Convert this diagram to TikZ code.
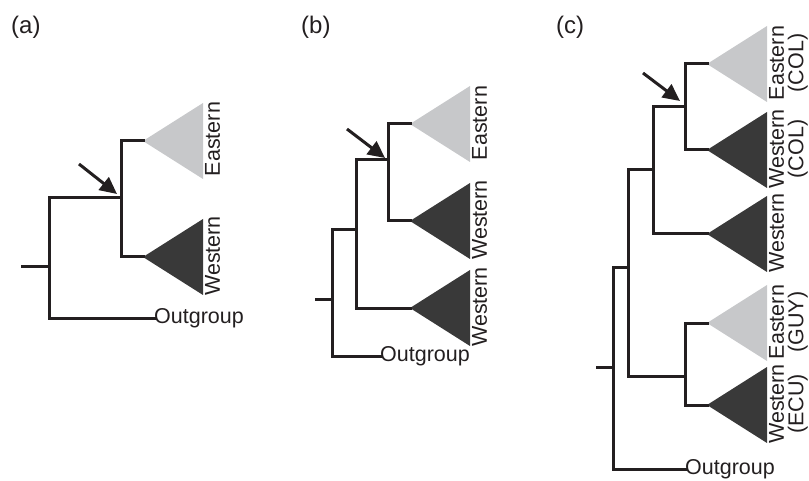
\documentclass[tikz,border=0pt]{standalone}
\usepackage{fontspec}
\setmainfont{Liberation Sans}
\usetikzlibrary{arrows.meta}
\definecolor{lineC}{HTML}{231F20}
\definecolor{darkC}{HTML}{393939}
\definecolor{lightC}{HTML}{C7C8CA}
\tikzset{
  br/.style={draw=lineC, line width=3pt, line cap=rect, line join=miter},
  lab/.style={rotate=90, anchor=north, inner sep=0pt, font=\fontsize{21.5}{19.5}\selectfont, align=center, text=lineC},
  outlab/.style={anchor=west, inner sep=0pt, font=\fontsize{21.5}{21.5}\selectfont, text=lineC},
  panel/.style={anchor=base west, inner sep=0pt, font=\fontsize{24}{24}\selectfont, text=lineC},
  pointer/.style={draw=lineC, line width=3pt, -{Triangle[length=17pt,width=16pt]}}
}
\newcommand{\clade}[4]{% name, apex x, apex y, colour
  \coordinate (#1) at (#2,#3);
  \fill[#4] (#1) -- ++(60,-38) -- ++(0,76) -- cycle;
}
\begin{document}
\begin{tikzpicture}[x=1pt,y=-1pt]
\useasboundingbox (0,0) rectangle (809,481);

% ---------------- panel (a)
\node[panel] (pa) at (11,34) {(a)};
\clade{aE}{143}{141}{lightC}
\clade{aW}{143}{257}{darkC}
\node[lab] (laE) at (205,139) {Eastern};
\node[lab] (laW) at (205,256) {Western};
\coordinate (aR) at (49,267);
\coordinate (aS) at (22,267);
\coordinate (aT) at (49,198);
\coordinate (aO) at (49,318);
\coordinate (aN) at (121,198);
\coordinate (aN1) at (121,141);
\coordinate (aN2) at (121,257);
\node[outlab] (aOut) at (154,318) {Outgroup};
\draw[br] (aS) -- (aR);
\draw[br] (aT) -- (aO);
\draw[br] (aO) -- (aOut.west);
\draw[br] (aT) -- (aN);
\draw[br] (aN1) -- (aN2);
\draw[br] (aN1) -- (aE);
\draw[br] (aN2) -- (aW);
\coordinate (aA0) at (79,164);
\coordinate (aA1) at (117,194);
\draw[pointer] (aA0) -- (aA1);

% ---------------- panel (b)
\node[panel] (pb) at (301,34) {(b)};
\clade{bE}{410}{124}{lightC}
\clade{bW1}{410}{221}{darkC}
\clade{bW2}{410}{308}{darkC}
\node[lab] (lbE) at (472,123) {Eastern};
\node[lab] (lbW1) at (472,220) {Western};
\node[lab] (lbW2) at (472,307) {Western};
\coordinate (bS) at (316,300);
\coordinate (bR) at (332,300);
\coordinate (bT) at (332,230);
\coordinate (bO) at (332,356);
\node[outlab] (bOut) at (380,356) {Outgroup};
\coordinate (bN) at (356,230);
\coordinate (bNt) at (356,160);
\coordinate (bNb) at (356,308);
\coordinate (bM) at (388,160);
\coordinate (bMt) at (388,124);
\coordinate (bMb) at (388,221);
\draw[br] (bS) -- (bR);
\draw[br] (bT) -- (bO);
\draw[br] (bO) -- (bOut.west);
\draw[br] (bT) -- (bN);
\draw[br] (bNt) -- (bNb);
\draw[br] (bNt) -- (bM);
\draw[br] (bMt) -- (bMb);
\draw[br] (bMt) -- (bE);
\draw[br] (bMb) -- (bW1);
\draw[br] (bNb) -- (bW2);
\coordinate (bA0) at (347,129);
\coordinate (bA1) at (385,158);
\draw[pointer] (bA0) -- (bA1);

% ---------------- panel (c)
\node[panel] (pc) at (556,34) {(c)};
\clade{cE1}{707}{64}{lightC}
\clade{cW1}{707}{150}{darkC}
\clade{cW2}{707}{234}{darkC}
\clade{cE2}{707}{323}{lightC}
\clade{cW3}{707}{405}{darkC}
\node[lab] (lcE1) at (769,63) {Eastern\\(COL)};
\node[lab] (lcW1) at (769,149) {Western\\(COL)};
\node[lab] (lcW2) at (769,233) {Western};
\node[lab] (lcE2) at (769,322) {Eastern\\(GUY)};
\node[lab] (lcW3) at (769,404) {Western\\(ECU)};
\coordinate (cS) at (597,367);
\coordinate (cR) at (613,367);
\coordinate (cT) at (613,268);
\coordinate (cO) at (613,469);
\node[outlab] (cOut) at (685,469) {Outgroup};
\coordinate (cP) at (628,268);
\coordinate (cPt) at (628,170);
\coordinate (cPb) at (628,376);
\coordinate (cQ) at (653,170);
\coordinate (cQt) at (653,107);
\coordinate (cQb) at (653,234);
\coordinate (cU) at (685,107);
\coordinate (cUt) at (685,64);
\coordinate (cUb) at (685,150);
\coordinate (cV) at (685,376);
\coordinate (cVt) at (685,323);
\coordinate (cVb) at (685,405);
\draw[br] (cS) -- (cR);
\draw[br] (cT) -- (cO);
\draw[br] (cO) -- (cOut.west);
\draw[br] (cT) -- (cP);
\draw[br] (cPt) -- (cPb);
\draw[br] (cPt) -- (cQ);
\draw[br] (cQt) -- (cQb);
\draw[br] (cQt) -- (cU);
\draw[br] (cUt) -- (cUb);
\draw[br] (cUt) -- (cE1);
\draw[br] (cUb) -- (cW1);
\draw[br] (cQb) -- (cW2);
\draw[br] (cPb) -- (cV);
\draw[br] (cVt) -- (cVb);
\draw[br] (cVt) -- (cE2);
\draw[br] (cVb) -- (cW3);
\coordinate (cA0) at (643,73);
\coordinate (cA1) at (680,101);
\draw[pointer] (cA0) -- (cA1);
\end{tikzpicture}
\end{document}
